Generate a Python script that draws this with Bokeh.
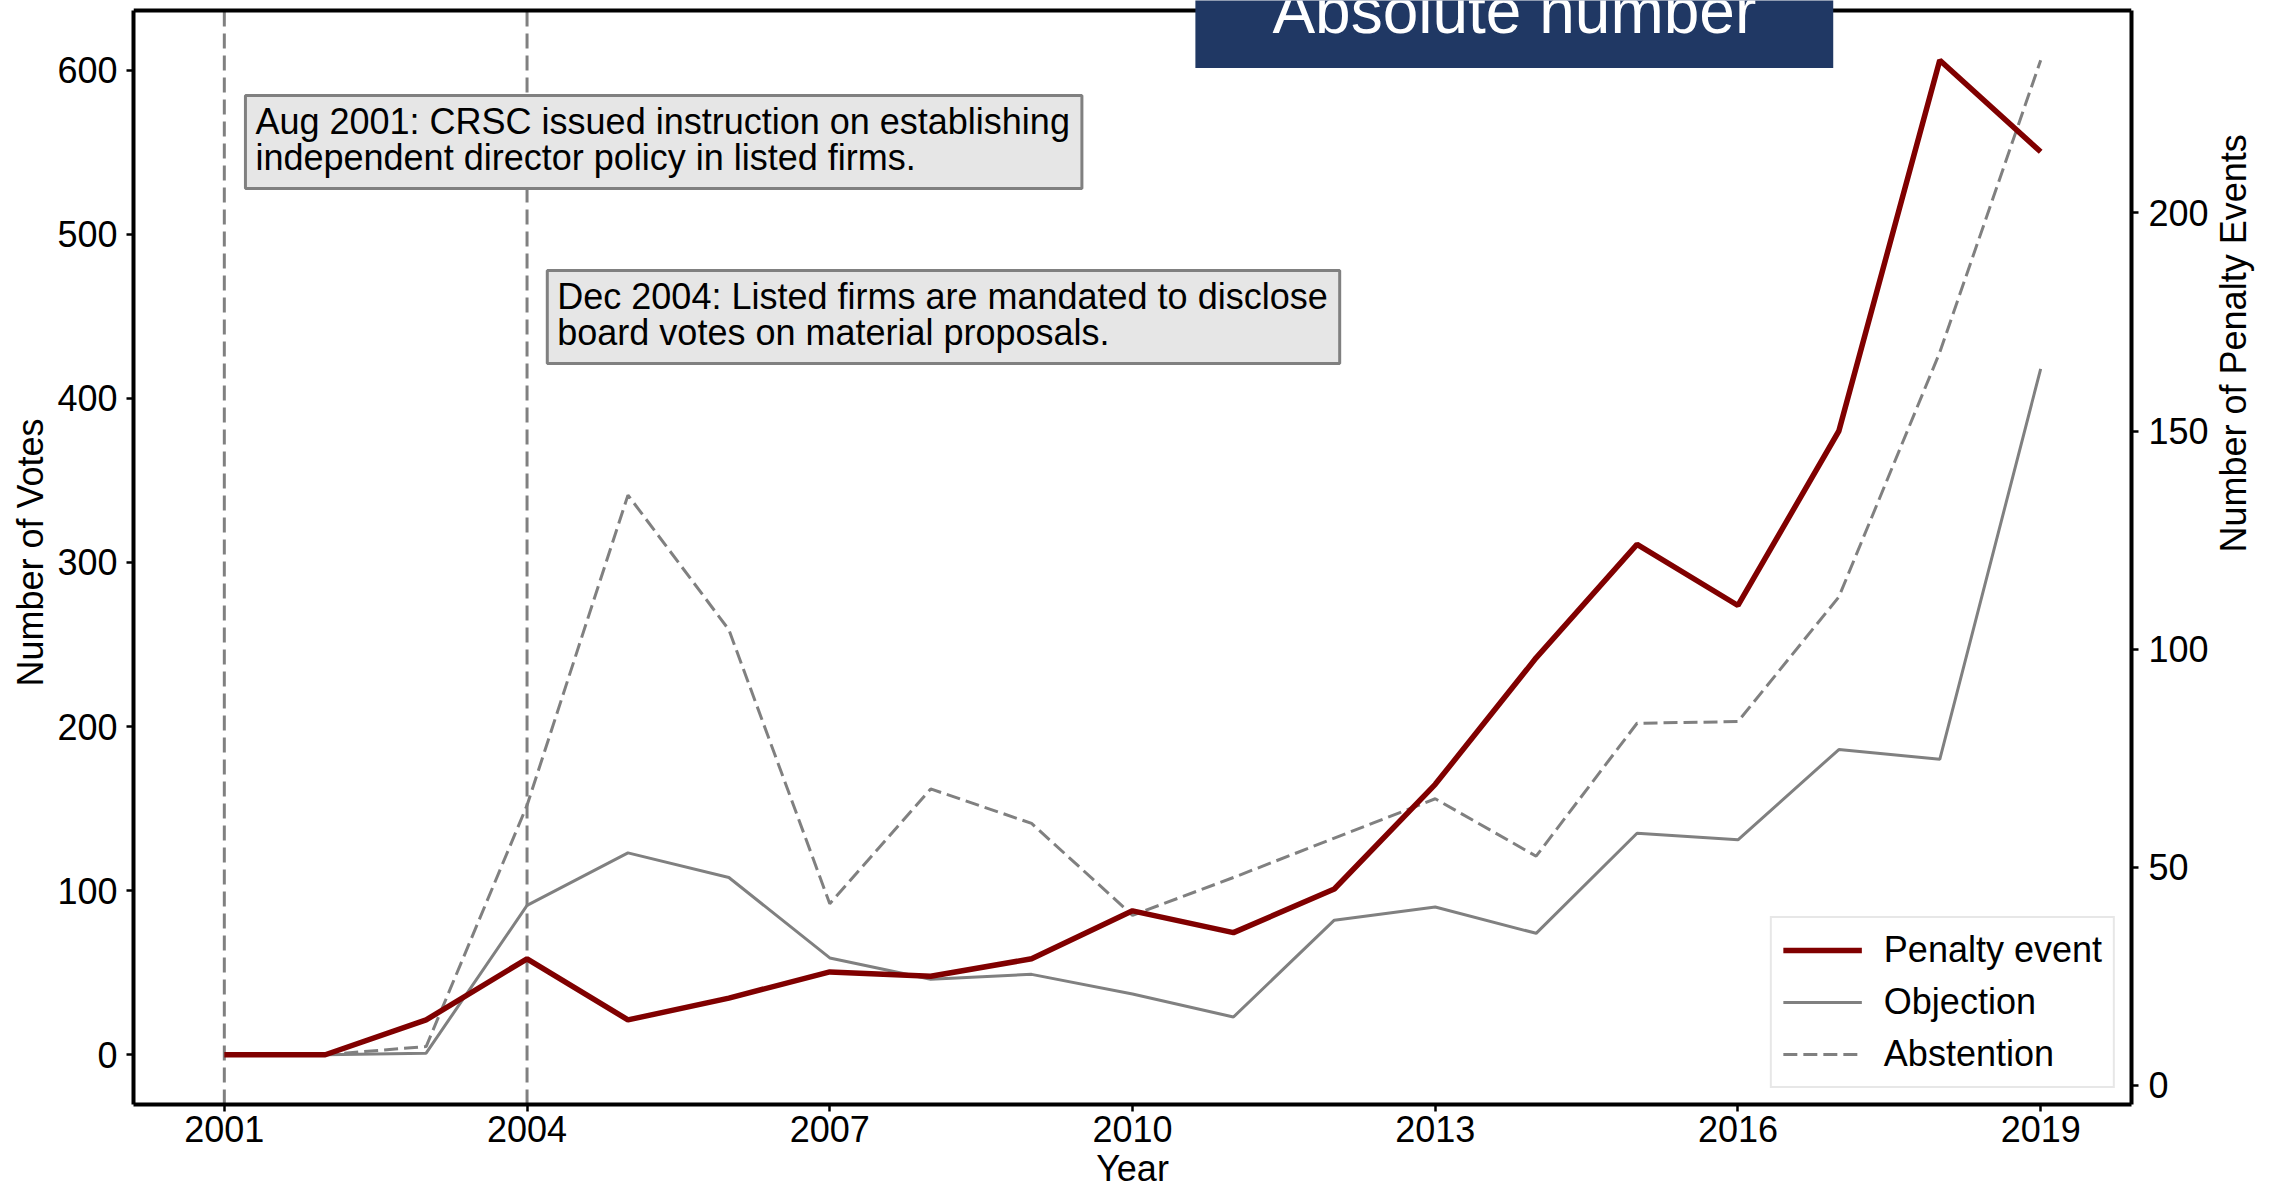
import math
from bokeh.plotting import figure
from bokeh.models import Range1d, LinearAxis, FixedTicker, Span, Label, Legend, LegendItem
from bokeh.embed import file_html
from bokeh.resources import INLINE

# ---- data ----
years = list(range(2001, 2020))
penalty = [7, 7, 15, 29, 15, 20, 26, 25, 29, 40, 35, 45, 69, 98, 124, 110, 150, 235, 214]
objection = [0, 0, 1, 91, 123, 108, 59, 46, 49, 37, 23, 82, 90, 74, 135, 131, 186, 180, 418]
abstention = [0, 0, 5, 152, 341, 259, 92, 162, 141, 85, 108, 132, 156, 121, 202, 203, 279, 428, 606]
x_ticks = [2001, 2004, 2007, 2010, 2013, 2016, 2019]
left_ticks = [0, 100, 200, 300, 400, 500, 600]
right_ticks = [0, 50, 100, 150, 200]
event_years = [2001, 2004]
note1 = "Aug 2001: CRSC issued instruction on establishing\nindependent director policy in listed firms."
note2 = "Dec 2004: Listed firms are mandated to disclose\nboard votes on material proposals."

FONT = "Liberation Sans"
FS = "36px"
MAROON = "#800000"
GRAY = "#808080"

W, H = 2277, 1192
BL, BR, BB = 133, 145, 88
TOP = 10                      # gap between canvas top and the axes box
FW = W - BL - BR
FH = H - TOP - BB             # height of the axes box


def padded(lo, hi, frac=0.05):
    m = (hi - lo) * frac
    return lo - m, hi + m


x0, x1 = padded(min(years), max(years))
yl0, yl1 = padded(min(objection + abstention), max(objection + abstention))
yr0, yr1 = padded(min(penalty), max(penalty))
kl = (yl1 - yl0) / FH
kr = (yr1 - yr0) / FH


def px_x(px):  # canvas pixel -> x data
    return x0 + (px - BL) * (x1 - x0) / FW


def px_y(py):  # canvas pixel -> left-axis data
    return yl1 - (py - TOP) * kl


# frame reaches the canvas top so the header box is not clipped;
# the axes box itself ends at yl1 (drawn with a span + bounded axes)
p = figure(width=W, height=H, output_backend="svg", toolbar_location=None,
           x_range=Range1d(x0, x1), y_range=Range1d(yl0, yl1 + TOP * kl),
           min_border_left=BL, min_border_right=BR, min_border_top=0, min_border_bottom=BB,
           background_fill_color="white", border_fill_color="white")
p.title.visible = False
p.outline_line_color = None
p.xgrid.visible = False
p.ygrid.visible = False
p.extra_y_ranges = {"pen": Range1d(yr0, yr1 + TOP * kr)}


def style_axis(ax):
    ax.axis_line_color = "black"
    ax.axis_line_width = 4
    ax.major_tick_line_color = "black"
    ax.major_tick_line_width = 2.5
    ax.major_tick_out = 7
    ax.major_tick_in = 0
    ax.minor_tick_line_color = None
    ax.major_label_text_font = FONT
    ax.major_label_text_font_size = FS
    ax.major_label_text_color = "black"
    ax.axis_label_text_font = FONT
    ax.axis_label_text_font_size = FS
    ax.axis_label_text_font_style = "normal"
    ax.axis_label_text_color = "black"


xa = p.xaxis[0]
style_axis(xa)
xa.ticker = FixedTicker(ticks=x_ticks)
xa.axis_label = "Year"
xa.major_label_standoff = 4
xa.axis_label_standoff = 3
xa.axis_label_text_line_height = 0.7

ya = p.yaxis[0]
style_axis(ya)
ya.ticker = FixedTicker(ticks=left_ticks)
ya.bounds = (yl0, yl1)
ya.axis_label = "Number of Votes"
ya.major_label_standoff = 9
ya.axis_label_standoff = 3

ya2 = LinearAxis(y_range_name="pen", ticker=FixedTicker(ticks=right_ticks),
                 axis_label="Number of Penalty Events", bounds=(yr0, yr1))
style_axis(ya2)
ya2.major_label_standoff = 10
ya2.axis_label_standoff = 22
try:
    ya2.axis_label_orientation = math.pi / 2
except Exception:
    pass
p.add_layout(ya2, "right")

# top spine
p.add_layout(Span(location=yl1, dimension="width", line_color="black", line_width=4))

# event lines (from the bottom to the top of the axes box)
p.segment(x0=event_years, y0=[yl0] * len(event_years), x1=event_years,
          y1=[yl1] * len(event_years), line_color=GRAY, line_width=3, line_dash="15 7")

r_obj = p.line(years, objection, line_color=GRAY, line_width=3)
r_abs = p.line(years, abstention, line_color=GRAY, line_width=3, line_dash="14 6")
r_pen = p.line(years, penalty, line_color=MAROON, line_width=5.5, y_range_name="pen")

# notes
for txt, bx, by in [(note1, 245, 95), (note2, 547, 270)]:
    p.add_layout(Label(x=px_x(bx), y=px_y(by), text=txt, text_align="left", text_baseline="top",
                       text_font=FONT, text_font_size=FS, text_color="black",
                       text_line_height=0.88,
                       background_fill_color="#e6e6e6", border_line_color=GRAY,
                       border_line_width=3,
                       padding=dict(left=10, right=12, top=5, bottom=11)))

# header box
p.add_layout(Label(x=px_x(1514.5), y=px_y(6), text="Absolute number", text_align="center",
                   text_baseline="alphabetic", text_font=FONT, text_font_size="64px",
                   text_color="white", background_fill_color="#203864",
                   padding=dict(left=77, right=77, top=30, bottom=21), level="overlay"))

legend = Legend(items=[LegendItem(label="Penalty event", renderers=[r_pen]),
                       LegendItem(label="Objection", renderers=[r_obj]),
                       LegendItem(label="Abstention", renderers=[r_abs])],
                location="bottom_right", margin=16, padding=11, spacing=10,
                glyph_width=79, glyph_height=40, label_height=40, label_standoff=22,
                label_text_font=FONT, label_text_font_size=FS, label_text_color="black",
                border_line_color="#d0d0d0", border_line_width=2,
                background_fill_color="white", background_fill_alpha=0.8)
p.add_layout(legend)

open("out.html", "w").write(file_html(p, INLINE))
